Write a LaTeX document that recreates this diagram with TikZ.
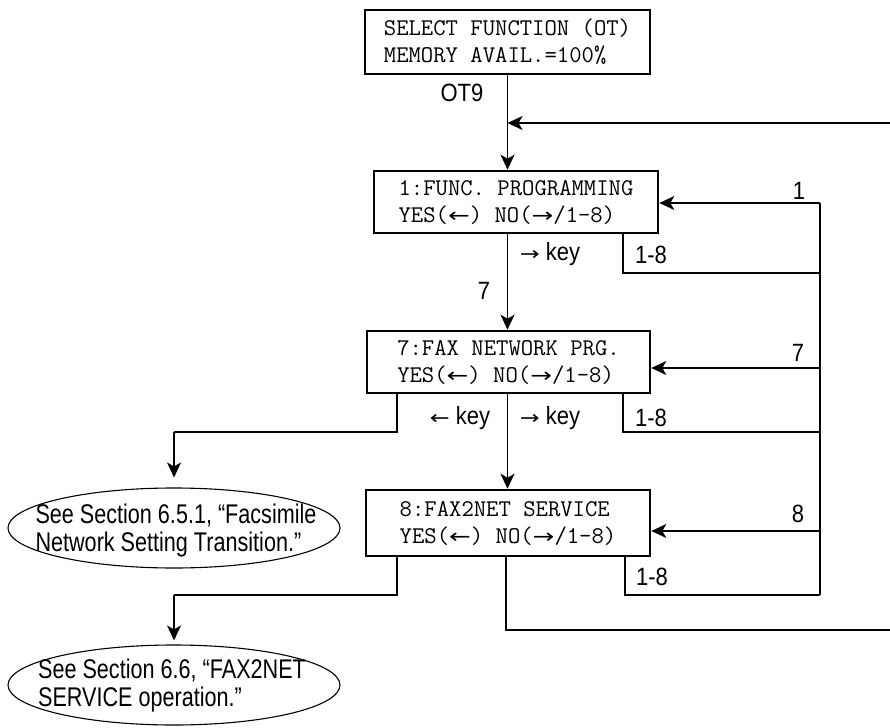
\documentclass[tikz,border=0pt]{standalone}
\usepackage{fontspec}
\usepackage{graphicx}
\setmainfont{Liberation Sans}
\newfontfamily\monof{Latin Modern Mono}
\newfontfamily\arrf{DejaVu Sans}
\newfontfamily\labf[FakeStretch=0.88]{Liberation Sans}
\newfontfamily\ellf[FakeStretch=0.8]{Liberation Sans}
\usetikzlibrary{shapes.geometric,arrows.meta,calc}
\newcommand{\mla}{\scalebox{1.3}[1]{\arrf\fontsize{20}{20}\selectfont ←}}
\newcommand{\mra}{\scalebox{1.3}[1]{\arrf\fontsize{20}{20}\selectfont →}}
\newcommand{\la}{\scalebox{1.25}[1]{\arrf\fontsize{19}{19}\selectfont ←}}
\newcommand{\ra}{\scalebox{1.25}[1]{\arrf\fontsize{19}{19}\selectfont →}}
\begin{document}
\begin{tikzpicture}[x=1pt,y=-1pt,
  lcd/.style={draw,line width=2.6pt,rectangle,inner sep=0pt,align=left,
    font=\monof\fontsize{24}{27}\selectfont},
  oval/.style={draw,line width=1.1pt,ellipse,inner sep=0pt,minimum width=332pt,
    minimum height=80pt},
  ovaltext/.style={inner sep=0pt,align=left,font=\ellf\fontsize{27}{28}\selectfont},
  lab/.style={inner sep=0pt,font=\labf\fontsize{25}{26}\selectfont},
  conn/.style={line width=1.3pt},
  arr/.style={conn,-{Stealth[length=15pt,width=14pt,inset=4pt]}}]
\useasboundingbox (0,0) rectangle (890,727);
% boxes
\node[lcd,minimum width=285pt,minimum height=64pt] (b0) at (507.5,42) {SELECT FUNCTION (OT)\\MEMORY AVAIL.=100\%};
\node[lcd,minimum width=284pt,minimum height=62pt] (b1) at (516,202) {1:FUNC. PROGRAMMING\\YES(\mla) NO(\mra/1-8)};
\node[lcd,minimum width=283pt,minimum height=62pt] (b2) at (508.5,362) {7:FAX NETWORK PRG.\\YES(\mla) NO(\mra/1-8)};
\node[lcd,minimum width=284pt,minimum height=66pt] (b3) at (508,523) {8:FAX2NET SERVICE\\YES(\mla) NO(\mra/1-8)};
% ellipses
\node[oval] (e1) at (174,528) {};
\node[ovaltext] (t1) at (176,531) {See Section 6.5.1, “Facsimile\\Network Setting Transition.”};
\node[oval] (e2) at (174,685) {};
\node[ovaltext] (t2) at (172,686) {See Section 6.6, “FAX2NET\\SERVICE operation.”};
% labels
\node[lab] (lot9) at (462,93) {OT9};
\node[lab] (lk1) at (550,254) {\ra\ key};
\node[lab] (l7a) at (484,291) {7};
\node[lab] (l18a) at (651,255) {1-8};
\node[lab] (l1) at (799,191) {1};
\node[lab] (lk2) at (460,418) {\la\ key};
\node[lab] (lk3) at (550,418) {\ra\ key};
\node[lab] (l18b) at (651,418) {1-8};
\node[lab] (l7b) at (798,353) {7};
\node[lab] (l8) at (798,514) {8};
\node[lab] (l18c) at (652,577) {1-8};
% coordinates
\coordinate (in0) at (890,123);
\coordinate (out3) at (890,630);
\coordinate (r1) at (820,203);
\coordinate (r2) at (820,368);
\coordinate (r3) at (820,531);
\coordinate (rb) at (820,595);
\coordinate (k1) at (623,273);
\coordinate (k2) at (623,432);
\coordinate (k3) at (625,595);
\coordinate (y2) at (397,432);
\coordinate (y3) at (397,595);
% main flow
\draw[arr] (b0.south) -- (b0.south |- b1.north);
\draw[arr] (in0) -- (in0 -| b0.south);
\draw[arr] (b0.south |- b1.south) -- (b0.south |- b2.north);
\draw[arr] (b0.south |- b2.south) -- (b0.south |- b3.north);
\draw[conn] (506,0 |- b3.south) -- (506,0 |- out3) -- (out3);
% right loop
\draw[conn] (r1) -- (rb);
\draw[arr] (r1) -- (r1 -| b1.east);
\draw[arr] (r2) -- (r2 -| b2.east);
\draw[arr] (r3) -- (r3 -| b3.east);
\draw[conn] (k1 |- b1.south) -- (k1) -- (k1 -| r1);
\draw[conn] (k2 |- b2.south) -- (k2) -- (k2 -| r1);
\draw[conn] (k3 |- b3.south) -- (k3) -- (rb);
% left branches
\draw[conn] (y2 |- b2.south) -- (y2) -- (y2 -| e1.north);
\draw[arr,shorten >=10pt] (y2 -| e1.north) -- (e1.north);
\draw[conn] (y3 |- b3.south) -- (y3) -- (y3 -| e2.north);
\draw[arr,shorten >=4pt] (y3 -| e2.north) -- (e2.north);
\end{tikzpicture}
\end{document}
